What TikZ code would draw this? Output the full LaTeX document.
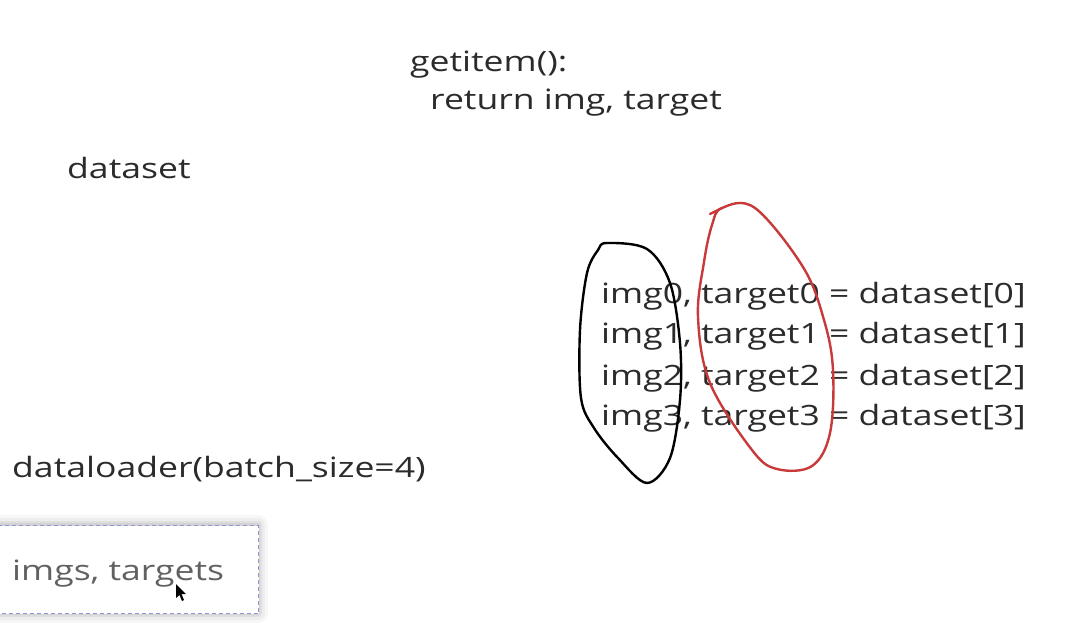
\documentclass[tikz,border=0pt]{standalone}
\usepackage{fontspec}
\setmainfont{Open Sans}[FakeStretch=1.27]
\definecolor{ink}{HTML}{2B2B2B}
\definecolor{softink}{HTML}{616161}
\definecolor{loopred}{HTML}{C83A3A}
\definecolor{framedash}{HTML}{8E96D8}
\begin{document}
\begin{tikzpicture}[x=1pt,y=-1pt,
  txt/.style={inner sep=0pt,anchor=base west,text=ink,font=\fontsize{28}{32}\selectfont},
  row/.style={txt},
  loop/.style={line width=2.4pt,line join=round,line cap=round},
  framebox/.style={draw=framedash,dash pattern=on 4pt off 3pt,line width=1.3pt,fill=white}]
\useasboundingbox[fill=white] (0,0) rectangle (1072,633);

% method text
\node[txt] (getitem) at (410,71) {getitem():};
\node[txt] (ret) at (430,109) {return img, target};
\node[txt] (ds) at (67,178) {dataset};
\node[txt] (dl) at (12,477) {dataloader(batch\_size=4)};

% the four indexed samples
\node[row] (r0) at (601,303) {img0, target0 = dataset[0]};
\node[row] (r1) at (601,343) {img1, target1 = dataset[1]};
\node[row] (r2) at (601,385) {img2, target2 = dataset[2]};
\node[row] (r3) at (601,425) {img3, target3 = dataset[3]};

% grouping loops
\draw[loop,black] plot[smooth cycle,tension=0.55] coordinates {
  (598,250) (607,243) (647,249) (670,283) (680,343) (680,400)
  (670,458) (647,483) (618,458) (594,428) (581,398) (580,330) (587,273)};
\draw[loop,loopred] plot[smooth cycle,tension=0.6] coordinates {
  (722,208) (755,208) (803,267) (824,320) (833,370) (830,433)
  (812,466) (777,469) (752,450) (710,383) (698,317) (704,262) (712,225)};
\draw[loop,loopred] (710,214) -- (722,208);

% batch output box with a soft glow behind it
\foreach \g/\o in {10/0.03,7/0.04,4/0.05,2/0.06}
  \fill[black,opacity=\o,rounded corners=\g pt] (-6-\g,525-\g) rectangle (258+\g,613+\g);
\node[framebox,minimum width=264pt,minimum height=88pt,anchor=north west] (batch) at (-6,525) {};
\node[txt,text=softink] (out) at (12,580) {imgs, targets};

% pointer
\fill[black] (176,584) -- (176,598) -- (179.5,595) -- (182,601) -- (184,600) -- (181.5,594) -- (186,594) -- cycle;
\end{tikzpicture}
\end{document}
